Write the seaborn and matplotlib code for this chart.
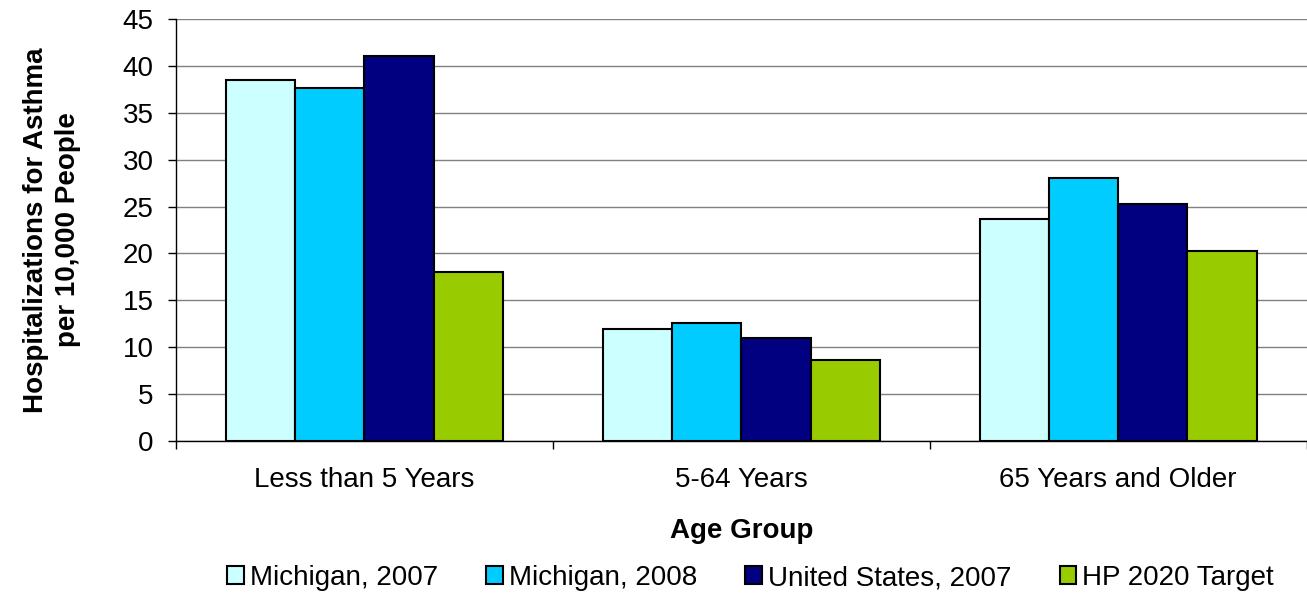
import matplotlib
matplotlib.use("Agg")
import matplotlib.pyplot as plt
import seaborn as sns
import pandas as pd
from matplotlib.ticker import FixedLocator, MultipleLocator

# Asthma hospitalization rates per 10,000 people
age_groups = ["Less than 5 Years", "5-64 Years", "65 Years and Older"]
series_names = ["Michigan, 2007", "Michigan, 2008", "United States, 2007", "HP 2020 Target"]
michigan_2007 = [38.5, 11.9, 23.7]
michigan_2008 = [37.6, 12.6, 28.0]
united_states_2007 = [41.0, 11.0, 25.3]
hp_2020_target = [18.0, 8.6, 20.3]
colors = ["#CCFFFF", "#00CCFF", "#000080", "#99CC00"]

values = [michigan_2007, michigan_2008, united_states_2007, hp_2020_target]
rows = []
for name, vals in zip(series_names, values):
    for grp, v in zip(age_groups, vals):
        rows.append({"Age Group": grp, "Series": name, "Rate": v})
df = pd.DataFrame(rows)

sns.set_style("white")
plt.rcParams["font.family"] = ["Liberation Sans", "DejaVu Sans"]

FS = 20

fig = plt.figure(figsize=(13.07, 5.95), dpi=100)
ax = fig.add_axes([0.1347, 0.2588, 0.8650, 0.7093])

sns.barplot(data=df, x="Age Group", y="Rate", hue="Series",
            order=age_groups, hue_order=series_names, palette=colors,
            width=0.735, edgecolor="black", linewidth=1.5,
            saturation=1, errorbar=None, ax=ax, zorder=3)

ax.set_ylim(0, 45)
ax.set_xlim(-0.5, 2.5)
ax.yaxis.set_major_locator(MultipleLocator(5))
ax.grid(axis="y", color="#808080", linewidth=1, zorder=0)
ax.set_axisbelow(True)

for side in ["top", "right"]:
    ax.spines[side].set_visible(False)
ax.spines["left"].set_color("black")
ax.spines["bottom"].set_color("black")
ax.spines["left"].set_linewidth(1)
ax.spines["bottom"].set_linewidth(1)

ax.tick_params(axis="y", which="major", direction="out", length=6, width=1,
               color="black", labelsize=FS, pad=10, left=True, labelcolor="black")
ax.tick_params(axis="x", which="major", length=0, labelsize=FS, pad=19,
               labelcolor="black")
ax.xaxis.set_minor_locator(FixedLocator([-0.5, 0.5, 1.5, 2.5]))
ax.tick_params(axis="x", which="minor", direction="out", length=6, width=1,
               color="black", bottom=True)

ax.set_xlabel("Age Group", fontsize=FS, fontweight="bold", labelpad=18,
              color="black")
ax.set_ylabel("Hospitalizations for Asthma\nper 10,000 People", fontsize=FS,
              fontweight="bold", labelpad=30, color="black", linespacing=1.3)

leg = ax.legend(loc="center", bbox_to_anchor=(0.508, (441 - 578) / 422.0),
                ncol=4, frameon=False, fontsize=FS, handlelength=0.6,
                handleheight=0.6, handletextpad=0.2, columnspacing=1.75,
                borderaxespad=0, borderpad=0)
for t in leg.get_texts():
    t.set_color("black")

fig.savefig("out.png", dpi=100)
